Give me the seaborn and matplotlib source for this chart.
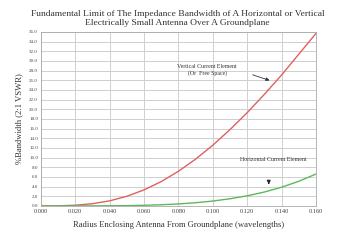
import matplotlib
matplotlib.use("Agg")
import matplotlib.pyplot as plt
import seaborn as sns
import pandas as pd
import numpy as np

radius = [0.000, 0.010, 0.020, 0.030, 0.040, 0.050, 0.060, 0.070, 0.080,
          0.090, 0.100, 0.110, 0.120, 0.130, 0.140, 0.150, 0.160]
vertical_bw = [0.0, 0.02, 0.14, 0.46, 1.05, 2.0, 3.32, 5.04, 7.17,
               9.69, 12.57, 15.8, 19.3, 23.1, 27.1, 31.4, 35.7]
horizontal_bw = [0.0, 0.0, 0.0, 0.01, 0.03, 0.06, 0.13, 0.24, 0.41,
                 0.66, 1.01, 1.48, 2.09, 2.88, 3.87, 5.1, 6.6]

title = "Fundamental Limit of The Impedance Bandwidth of A Horizontal or Vertical\nElectrically Small Antenna Over A Groundplane"
xlabel = "Radius Enclosing Antenna From Groundplane (wavelengths)"
ylabel = "%Bandwidth (2:1 VSWR)"
xticks = [0.000, 0.020, 0.040, 0.060, 0.080, 0.100, 0.120, 0.140, 0.160]
yticks = list(np.arange(0, 36.1, 2.0))

sns.set_theme(style="white")
plt.rcParams['font.family'] = ['Liberation Serif', 'DejaVu Serif']

df = pd.DataFrame({"r": radius, "v": vertical_bw, "h": horizontal_bw})

fig = plt.figure(figsize=(3.38, 2.40), dpi=100)
ax = fig.add_axes([0.121, 0.142, 0.814, 0.725])

sns.lineplot(data=df, x="r", y="v", ax=ax, color="#e06060", linewidth=1.0)
sns.lineplot(data=df, x="r", y="h", ax=ax, color="#5cb85c", linewidth=1.0)

ax.set_xlim(0, 0.160)
ax.set_ylim(0, 36)
ax.set_xticks(xticks)
ax.set_xticklabels([f"{t:.3f}" for t in xticks], fontsize=4.6, color="#444444")
ax.set_yticks(yticks)
ax.set_yticklabels([f"{t:.1f}" for t in yticks], fontsize=3.6, color="#444444")
ax.set_xticks(np.arange(0.01, 0.16, 0.02), minor=True)
ax.tick_params(axis="both", which="both", direction="in", length=2, width=0.5, color="#888888", pad=2)
ax.tick_params(axis="x", which="minor", length=2)
ax.grid(True, which="major", color="#cfcfcf", linewidth=0.7)
for s in ax.spines.values():
    s.set_color("#aaaaaa")
    s.set_linewidth(0.6)

ax.set_xlabel(xlabel, fontsize=6.2, color="#333333", labelpad=5)
ax.set_ylabel(ylabel, fontsize=6.2, color="#333333", labelpad=4)
fig.suptitle(title, fontsize=6.8, color="#333333", y=0.96, x=0.525, linespacing=1.15)

ax.text(0.0966, 28.2, "Vertical Current Element\n(Or  Free Space)", fontsize=4.2,
        ha="center", va="center", color="#333333", linespacing=1.3)
ax.annotate("", xy=(0.1345, 25.8), xytext=(0.1216, 27.3),
            arrowprops=dict(arrowstyle="-|>", color="#333344", lw=0.6, mutation_scale=5))
ax.text(0.135, 9.6, "Horizontal Current Element", fontsize=4.2,
        ha="center", va="center", color="#333333")
ax.annotate("", xy=(0.1325, 3.9), xytext=(0.1325, 5.4),
            arrowprops=dict(arrowstyle="-|>", color="#222222", lw=0.8, mutation_scale=5))

fig.savefig("out.png", dpi=100)
